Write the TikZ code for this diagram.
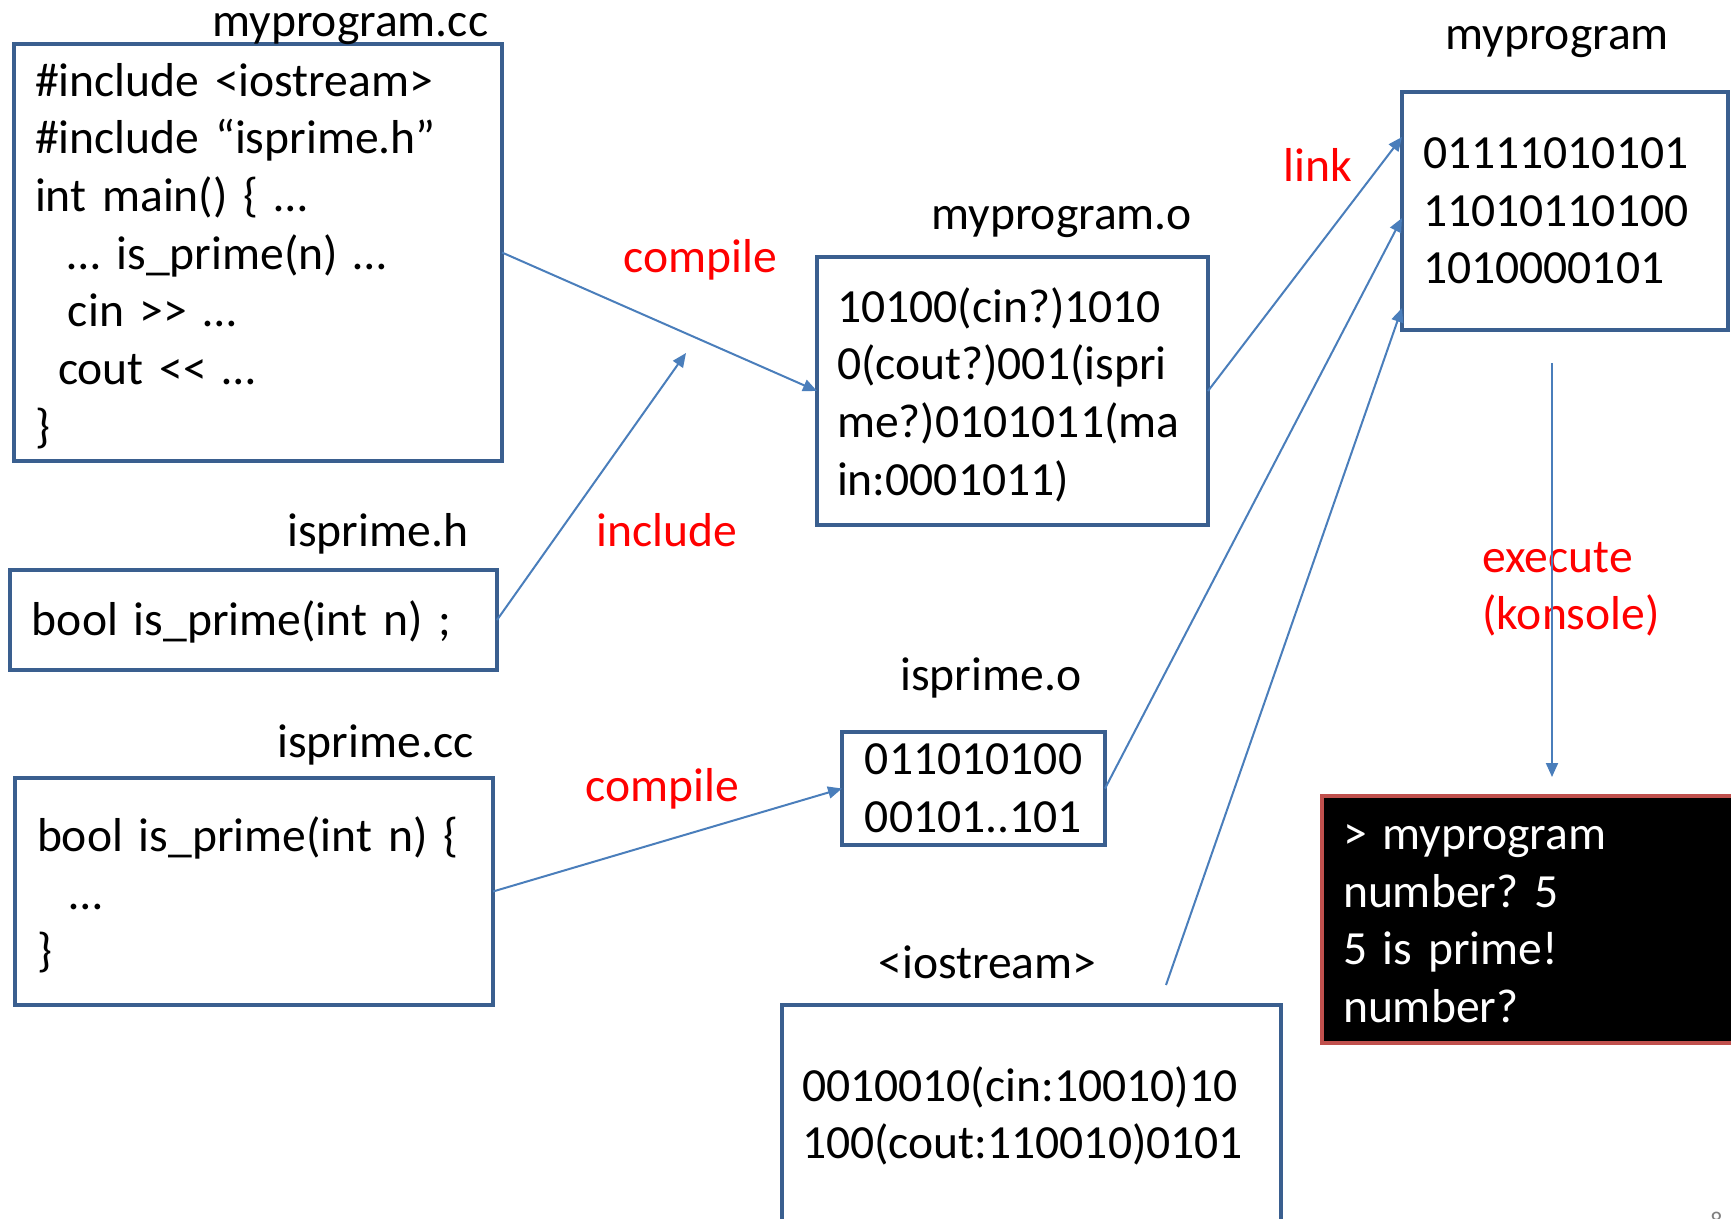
\documentclass[tikz,border=0pt]{standalone}
\usepackage{fontspec}
\setmainfont{Carlito}[Ligatures=TeXOff]
\usetikzlibrary{arrows.meta}
\definecolor{boxblue}{HTML}{3A5F8F}
\definecolor{arrowblue}{HTML}{4A7EBB}
\definecolor{termred}{HTML}{C0504D}
\tikzset{
	codefont/.style = {
		font=\fontsize{23.8pt}{28.85pt}\selectfont\frenchspacing
	},
	file_box/.style = {
		codefont,
		rectangle,
		draw=boxblue,
		fill=white,
		line width=2pt,
		outer sep=0pt,
		inner ysep=0pt,
		align=left,
		anchor=north west
	},
	file_box_c/.style = {
		file_box,
		align=center
	},
	term_box/.style = {
		file_box,
		draw=termred,
		fill=black,
		text=white
	},
	file_name/.style = {
		codefont,
		inner sep=0pt,
		anchor=base west
	},
	step_name/.style = {
		file_name,
		red,
		align=left
	},
	flow/.style = {
		draw=arrowblue,
		line width=1pt
	},
}

\begin{document}
\begin{tikzpicture}[x=0.5pt, y=-0.5pt, ->, >={Triangle[length=7pt,width=6pt]}]
\useasboundingbox (0,0) rectangle (1731,1219);

\node [file_box, minimum width=244pt, minimum height=208.5pt, text width=223pt, inner xsep=10.5pt] (srcmain) at (14,44)
	{\rule{0pt}{20pt}\#include <iostream>\\
	 \#include “isprime.h”\\
	 int main() \{ …\\
	 \hspace*{16.5pt}… is\_prime(n) …\\
	 \hspace*{16.5pt}cin >> …\\
	 \hspace*{11.5pt}cout << …\\
	 \}};
\node [file_name] (srcmain_name) at (212,37) {myprogram.cc};

\node [file_box, minimum width=243.5pt, minimum height=50pt, text width=221.5pt, inner xsep=11pt] (hdr) at (10,570)
	{\rule{0pt}{19.8pt}bool is\_prime(int n) ;};
\node [file_name] (hdr_name) at (287,547) {isprime.h};

\node [file_box, minimum width=239pt, minimum height=113.5pt, text width=217pt, inner xsep=11pt] (srcprime) at (15,778)
	{\rule{0pt}{21pt}bool is\_prime(int n) \{\\
	 \hspace*{16.5pt}…\\
	 \}};
\node [file_name] (srcprime_name) at (277,757) {isprime.cc};

\node [file_box, minimum width=195.5pt, minimum height=134pt, text width=175.5pt, inner xsep=10pt] (objmain) at (817,257)
	{\rule{0pt}{21pt}10100(cin?)1010\\
	 0(cout?)001(ispri\\
	 me?)0101011(ma\\
	 in:0001011)};
\node [file_name] (objmain_name) at (931,230) {myprogram.o};

\node [file_box_c, minimum width=131.5pt, minimum height=56.5pt, text width=119.5pt, inner xsep=6pt] (objprime) at (842,732)
	{011010100\\
	 00101..101};
\node [file_name] (objprime_name) at (900,690) {isprime.o};

\node [file_box, minimum width=249.5pt, minimum height=111pt, text width=229.5pt, inner xsep=10pt] (lib) at (782,1005)
	{0010010(cin:10010)10\\
	 100(cout:110010)0101};
\node [file_name] (lib_name) at (878,978) {<iostream>};

\node [file_box, minimum width=163pt, minimum height=119pt, text width=142pt, inner xsep=10.5pt] (exe) at (1402,92)
	{01111010101\\
	 11010110100\\
	 1010000101};
\node [file_name] (exe_name) at (1445,50) {myprogram};

\node [term_box, minimum width=211.5pt, minimum height=123.5pt, text width=190.5pt, inner xsep=10.5pt] (term) at (1322,796)
	{\vphantom{b}> myprogram\\
	 number? 5\\
	 5 is prime!\\
	 number?};

\node [step_name] (compile_main) at (623,273) {compile};
\node [step_name] (include) at (596,547) {include};
\node [step_name] (compile_prime) at (585,801) {compile};
\node [step_name] (link) at (1283,182) {link};
\node [step_name] (execute) at (1482,630) {execute\\(konsole)};

\node [file_name, gray, font=\fontsize{12pt}{14pt}\selectfont, anchor=north west] (pageno) at (1710,1212) {8};

\coordinate (incl_tip) at (686,353);
\coordinate (lib_out) at (1166,985);
\coordinate (run_top) at (1552,363);

\draw [flow] (srcmain.east) -- (objmain.west);
\draw [flow] (hdr.east) -- (incl_tip);
\draw [flow] (srcprime.east) -- (objprime.west);
\draw [flow] (objmain.east) -- ([yshift=-22.5pt]exe.north west);
\draw [flow] (objprime.east) -- ([yshift=-3.5pt]exe.west);
\draw [flow] (lib_out) -- ([yshift=11pt]exe.south west);
\draw [flow, shorten >=9.5pt] (run_top) -- (run_top |- term.north);
\end{tikzpicture}
\end{document}
